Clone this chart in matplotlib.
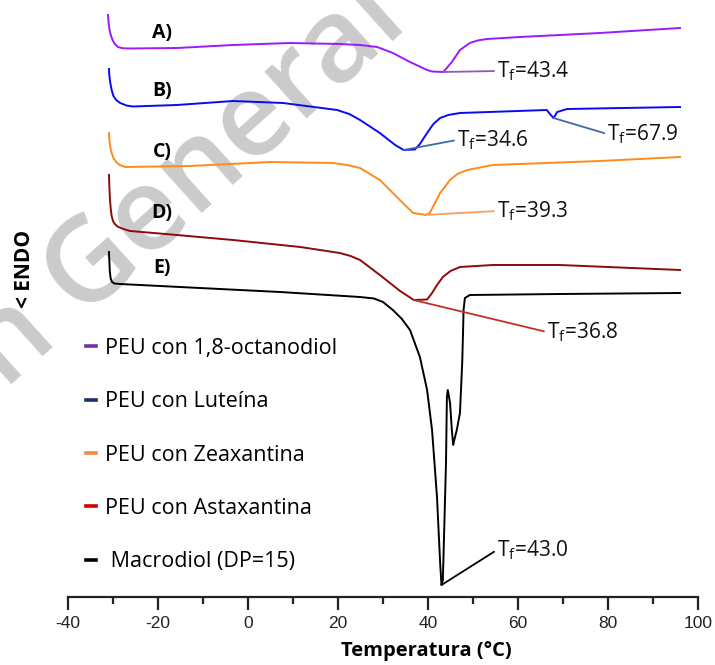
import matplotlib
matplotlib.use("Agg")
import matplotlib.pyplot as plt
from matplotlib.lines import Line2D

plt.rcParams["font.family"] = ["Open Sans", "DejaVu Sans"]
plt.rcParams["mathtext.fontset"] = "custom"
plt.rcParams["mathtext.rm"] = "Open Sans"
plt.rcParams["mathtext.it"] = "Open Sans:italic"
plt.rcParams["axes.unicode_minus"] = False

# ---- DSC heating curves (temperature in degC, heat flow in arbitrary units, stacked) ----
temp_a = [-31.1, -31.0, -30.8, -30.5, -30.1, -29.6, -28.9, -27.9, -26.5, -15.8, -3.3, 9.3,
          20.4, 24.9, 28.7, 32.2, 36.0, 39.8, 40.9, 43.4, 45.3, 47.1, 49.3, 51.0, 53.1,
          60.4, 78.2, 96.0]
flow_a = [582, 575, 568, 562, 557, 553, 550, 548.8, 548.5, 549, 552, 554,
          553, 552, 550, 544, 535, 527, 525.5, 525, 535, 547, 554, 556.5, 558,
          560, 564, 569]

temp_b = [-30.9, -30.8, -30.6, -30.3, -29.9, -29.3, -28.4, -27.0, -25.6, -15.8, -3.3, 7.8,
          19.8, 22.5, 24.9, 29.3, 32.7, 34.6, 37.1, 38.2, 39.8, 41.2, 42.7, 44.5, 47.1,
          66.4, 66.9, 67.9, 68.2, 68.7, 70.9, 96.0]
flow_b = [528, 521, 514, 507, 501, 497, 494, 491.5, 490.5, 492, 496, 494,
          487, 483, 477, 464, 452, 447, 447.5, 453, 464, 473, 479, 482, 484,
          487, 484, 479, 481, 485, 488, 490]

temp_c = [-30.9, -30.8, -30.6, -30.3, -29.9, -29.3, -28.5, -27.3, -12.9, 4.9, 18.9, 22.0,
          24.9, 29.3, 34.4, 36.7, 38.9, 39.3, 40.4, 42.7, 44.9, 46.5, 48.7, 54.4, 78.2, 96.0]
flow_c = [464, 457, 450, 444, 439, 435, 432, 430, 431, 435, 434, 432,
          429, 417, 394, 384, 382.5, 382, 384, 404, 417, 423, 427, 432, 436, 440]

temp_d = [-30.9, -30.8, -30.7, -30.5, -30.3, -30.0, -29.6, -29.0, -28.0, -26.2, -15.8, -3.3,
          11.6, 20.4, 22.8, 24.9, 29.3, 33.8, 36.0, 36.8, 39.8, 40.9, 42.0, 43.3, 45.0,
          47.1, 54.4, 69.3, 96.0]
flow_d = [422, 410, 399, 388, 381, 376, 373, 370.5, 368.5, 366, 362, 357,
          350, 344, 341, 337, 322, 306, 299.5, 297, 297.5, 304, 312, 320, 326,
          330, 332, 332, 327]

temp_e = [-30.9, -30.8, -30.7, -30.5, -30.2, -29.7, -28.4, -10.7, 7.1, 24.9, 28.0, 30.0,
          32.2, 34.2, 36.0, 38.2, 39.8, 40.9, 42.0, 42.7, 43.0, 43.3, 43.6, 44.0, 44.2,
          44.4, 44.9, 45.3, 45.6, 46.0, 46.4, 47.1, 47.6, 47.8, 47.9, 48.2, 49.3, 69.3, 96.0]
flow_e = [345, 335, 325, 318, 315, 313.5, 313, 309, 305, 300, 298.5, 295,
          287, 278, 267, 240, 207, 167, 100, 34, 12, 17, 67, 134, 200,
          207, 194, 167, 152, 160, 167, 184, 234, 267, 287, 299, 302, 303, 304]

curve_tags = ["A)", "B)", "C)", "D)", "E)"]
curve_colors = ["#9b1bfa", "#0a0af2", "#ff8c1a", "#8b0a0a", "#000000"]

legend_labels = ["PEU con 1,8-octanodiol", "PEU con Luteína", "PEU con Zeaxantina",
                 "PEU con Astaxantina", " Macrodiol (DP=15)"]
legend_colors = ["#7030a0", "#1f2f6b", "#f08a4b", "#d00000", "#000000"]

# melting temperatures: (Tf, heat flow at the peak, label x, label y, leader colour)
tf_values = [43.4, 34.6, 67.9, 39.3, 36.8, 43.0]
tf_flows = [525, 447, 479, 382, 297, 12]
tf_label_x = [55.3, 46.4, 79.8, 55.3, 66.4, 55.3]
tf_label_y = [526, 457, 463, 386, 265, 47]
tf_colors = ["#9058b8", "#4466aa", "#4466aa", "#f5a060", "#c0302b", "#000000"]

x_ticks = [-40, -20, 0, 20, 40, 60, 80, 100]

W, H = 715, 665
fig = plt.figure(figsize=(W / 100, H / 100), dpi=100)
ax = fig.add_axes([68 / W, 68 / H, 630 / W, 597 / H])
ax.set_facecolor("none")

# watermark behind the curves
ax.text(410 / W, 1 - 25 / H, "Versión General", transform=fig.transFigure,
        rotation=42, rotation_mode="anchor", ha="right", va="baseline",
        fontsize=84, fontweight="semibold", color="#cbcbcb", zorder=0.5,
        clip_on=False)

curves = [(temp_a, flow_a), (temp_b, flow_b), (temp_c, flow_c),
          (temp_d, flow_d), (temp_e, flow_e)]
for (t, f), c in zip(curves, curve_colors):
    ax.plot(t, f, color=c, lw=1.4, solid_joinstyle="round", zorder=3)

# curve tags
tag_y = [564, 506, 445, 384, 329]
for tag, ty in zip(curve_tags, tag_y):
    ax.text(-19.1, ty, tag, ha="center", va="center", fontsize=14,
            fontweight="bold", color="black", zorder=4)

# melting point annotations
for tf, fl, lx, ly, col in zip(tf_values, tf_flows, tf_label_x, tf_label_y, tf_colors):
    ax.annotate(r"T$_{\mathrm{f}}$=" + f"{tf:.1f}", xy=(tf, fl), xytext=(lx, ly),
                ha="left", va="center", fontsize=15, color="#111111",
                arrowprops=dict(arrowstyle="-", color=col, lw=1.3,
                                shrinkA=0, shrinkB=0, relpos=(0, 0.5)),
                zorder=4)

ax.set_xlim(-40, 100)
ax.set_ylim(0, 597)
ax.set_xticks(x_ticks)
ax.set_xticks(range(-30, 100, 20), minor=True)
ax.set_yticks([])
for side in ["left", "right", "top"]:
    ax.spines[side].set_visible(False)
ax.spines["bottom"].set_linewidth(1.6)
ax.spines["bottom"].set_color("#222222")
ax.tick_params(axis="x", which="major", length=9, width=1.6, direction="out",
               pad=5, labelsize=12.5, labelcolor="#222222", color="#222222",
               labelfontfamily="Liberation Sans")
ax.tick_params(axis="x", which="minor", length=5, width=1.6, direction="out",
               color="#222222")

handles = [Line2D([], [], color=c, lw=2.6) for c in legend_colors]
ax.legend(handles, legend_labels, loc="upper left",
          bbox_to_anchor=(86 / W, 1 - 338 / H), bbox_transform=fig.transFigure,
          frameon=False, fontsize=15.5, handlelength=0.45, handletextpad=0.45,
          labelspacing=1.5, borderpad=0, borderaxespad=0)

fig.text(426 / W, 1 - 651 / H, "Temperatura (°C)", ha="center", va="center",
         fontsize=14.5, fontweight="bold")
fig.text(24 / W, 1 - 269 / H, "< ENDO", ha="center", va="center", rotation=90,
         fontsize=15, fontweight="bold")

fig.savefig("out.png", dpi=100)
